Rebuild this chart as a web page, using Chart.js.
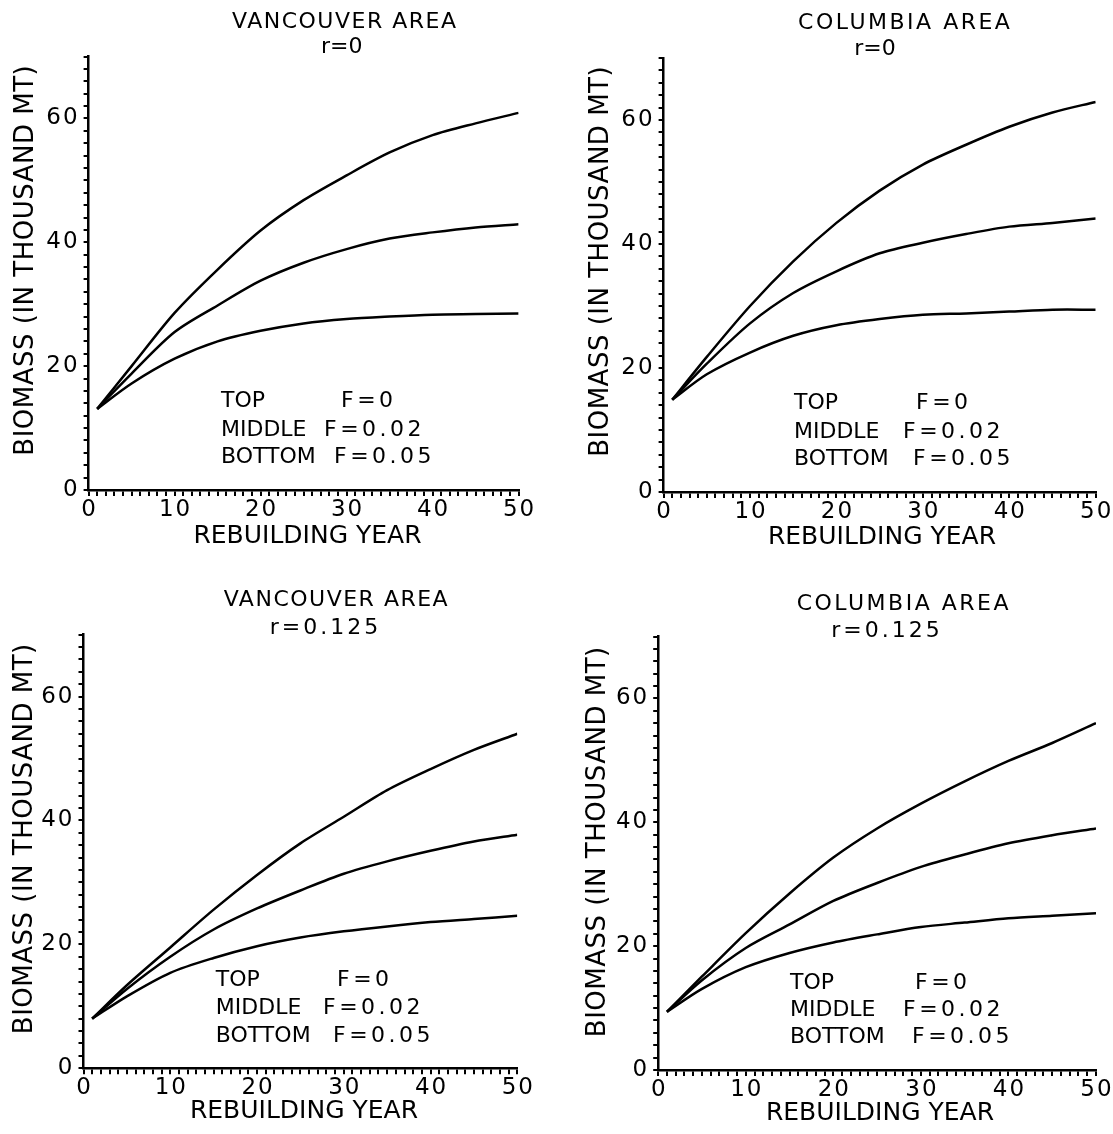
<!DOCTYPE html>
<html>
<head>
<meta charset="utf-8">
<script src="https://cdn.jsdelivr.net/npm/chart.js@4.4.1/dist/chart.umd.min.js"></script>
<style>
html,body{margin:0;padding:0;background:#fff;}
#wrap{position:relative;width:1113px;height:1134px;overflow:hidden;background:#fff;}
#wrap canvas{position:absolute;}
</style>
</head>
<body>
<div id="wrap">
<canvas id="c1"></canvas>
<canvas id="c2"></canvas>
<canvas id="c3"></canvas>
<canvas id="c4"></canvas>
</div>
<script>
// ---------- data ----------
const years = [1, 5, 10, 15, 20, 25, 30, 35, 40, 45, 50];

// Vancouver area, r = 0
const vanR0_F0   = [13.1, 20.0, 28.6, 35.6, 41.9, 46.8, 50.8, 54.5, 57.3, 59.2, 60.9];
const vanR0_F002 = [13.1, 18.8, 25.5, 29.8, 33.8, 36.7, 38.9, 40.6, 41.6, 42.4, 42.9];
const vanR0_F005 = [13.1, 17.2, 21.2, 24.0, 25.7, 26.9, 27.6, 28.0, 28.3, 28.4, 28.5];

// Columbia area, r = 0
const colR0_F0   = [14.9, 21.8, 30.0, 37.2, 43.4, 48.6, 52.8, 56.0, 58.9, 61.2, 62.9];
const colR0_F002 = [14.9, 20.7, 27.2, 32.1, 35.6, 38.5, 40.2, 41.6, 42.8, 43.4, 44.1];
const colR0_F005 = [14.9, 19.0, 22.5, 25.2, 26.9, 27.9, 28.6, 28.8, 29.1, 29.4, 29.4];

// Vancouver area, r = 0.125
const vanR125_F0   = [8.0, 13.4, 19.5, 25.6, 31.2, 36.3, 40.6, 44.9, 48.3, 51.4, 54.0];
const vanR125_F002 = [8.0, 12.8, 18.0, 22.4, 25.8, 28.7, 31.4, 33.4, 35.1, 36.6, 37.7];
const vanR125_F005 = [8.0, 11.6, 15.4, 17.8, 19.7, 21.1, 22.1, 22.9, 23.6, 24.1, 24.6];

// Columbia area, r = 0.125
const colR125_F0   = [9.4, 15.1, 22.1, 28.5, 34.3, 39.0, 43.0, 46.6, 49.9, 52.8, 56.0];
const colR125_F002 = [9.4, 14.5, 19.7, 23.5, 27.3, 30.2, 32.8, 34.8, 36.6, 37.9, 39.0];
const colR125_F005 = [9.4, 13.1, 16.6, 18.9, 20.6, 21.9, 23.1, 23.8, 24.5, 24.9, 25.3];

// tick labels
const xTickLabels = [0, 10, 20, 30, 40, 50];
const yTickLabels = [0, 20, 40, 60];

// text
const xAxisTitle = 'REBUILDING YEAR';
const yAxisTitle = 'BIOMASS (IN THOUSAND MT)';
const legendNames = ['TOP', 'MIDDLE', 'BOTTOM'];
const legendValues = ['F=0', 'F=0.02', 'F=0.05'];

// ---------- layout / style ----------
const FAMILY = "'DejaVu Sans', 'Liberation Sans', Arial, sans-serif";
const YW = 50, XH = 40;
const TICK_SP = 2;

const panels = [
  { id: 'c1', left: 0, top: 0, w: 556, h: 567,
    area: { l: 88.6, r: 518.6, t: 56.5, b: 490 },
    series: [vanR0_F0, vanR0_F002, vanR0_F005],
    title: 'VANCOUVER AREA', sub: 'r=0',
    titlePos: [344, 22], subPos: [341.7, 47], subSp: 0, titleSp: 1.5,
    xtPos: [307.5, 536.7], ytPos: [26.4, 260.5],
    legX: 221, legY: [401.7, 430, 457], legFX: [341, 324, 334] },
  { id: 'c2', left: 556, top: 0, w: 557, h: 567,
    area: { l: 663.6, r: 1095.7, t: 57.9, b: 492.1 },
    series: [colR0_F0, colR0_F002, colR0_F005],
    title: 'COLUMBIA AREA', sub: 'r=0',
    titlePos: [904, 23], subPos: [875, 49], subSp: 0, titleSp: 2.5,
    xtPos: [882, 537.5], ytPos: [601, 261.6],
    legX: 794, legY: [403.6, 432, 459], legFX: [916, 903, 913] },
  { id: 'c3', left: 0, top: 567, w: 556, h: 567,
    area: { l: 83.5, r: 517.3, t: 634.7, b: 1068.2 },
    series: [vanR125_F0, vanR125_F002, vanR125_F005],
    title: 'VANCOUVER AREA', sub: 'r=0.125',
    titlePos: [335.7, 600], subPos: [324, 628.3], subSp: 3, titleSp: 1.5,
    xtPos: [304, 1111], ytPos: [25, 839],
    legX: 215.8, legY: [980, 1008, 1035.8], legFX: [337, 323, 333] },
  { id: 'c4', left: 556, top: 567, w: 557, h: 567,
    area: { l: 658.2, r: 1096, t: 636.5, b: 1070 },
    series: [colR125_F0, colR125_F002, colR125_F005],
    title: 'COLUMBIA AREA', sub: 'r=0.125',
    titlePos: [902.6, 604], subPos: [885.5, 631], subSp: 3, titleSp: 2.5,
    xtPos: [880, 1113], ytPos: [598, 842],
    legX: 790, legY: [983.7, 1010.6, 1037.6], legFX: [915, 903, 912] }
];

Chart.defaults.font.family = FAMILY;
Chart.defaults.color = '#000';

function drawText(ctx, t) {
  ctx.save();
  ctx.font = t.size + 'px ' + FAMILY;
  ctx.fillStyle = '#000';
  const sp = t.sp || 0;
  const hasLS = ('letterSpacing' in ctx);
  if (hasLS) ctx.letterSpacing = sp + 'px';
  ctx.textBaseline = 'middle';
  ctx.textAlign = 'left';
  let w = ctx.measureText(t.text).width;
  if (hasLS) w -= sp;
  ctx.translate(t.x, t.y);
  if (t.rot) ctx.rotate(-Math.PI / 2);
  const x0 = t.align === 'left' ? 0 : -w / 2;
  ctx.fillText(t.text, x0, 0);
  ctx.restore();
}

panels.forEach(p => {
  const cv = document.getElementById(p.id);
  cv.width = p.w; cv.height = p.h;
  cv.style.width = p.w + 'px'; cv.style.height = p.h + 'px';
  cv.style.left = p.left + 'px'; cv.style.top = p.top + 'px';

  const L = (x) => x - p.left, T = (y) => y - p.top;
  const texts = [
    { text: p.title, x: L(p.titlePos[0]), y: T(p.titlePos[1]), size: 22, sp: p.titleSp },
    { text: p.sub, x: L(p.subPos[0]), y: T(p.subPos[1]), size: 22, sp: p.subSp },
    { text: xAxisTitle, x: L(p.xtPos[0]), y: T(p.xtPos[1]), size: 25, sp: 0 },
    { text: yAxisTitle, x: L(p.ytPos[0]), y: T(p.ytPos[1]), size: 26, sp: 0.5, rot: true }
  ];
  legendNames.forEach((n, i) => {
    texts.push({ text: n, x: L(p.legX), y: T(p.legY[i]), size: 22, sp: 0, align: 'left' });
    texts.push({ text: legendValues[i], x: L(p.legFX[i]), y: T(p.legY[i]), size: 22, sp: 3.5, align: 'left' });
  });

  const textPlugin = {
    id: 'panelTexts',
    beforeDraw(chart) {
      if ('letterSpacing' in chart.ctx) chart.ctx.letterSpacing = TICK_SP + 'px';
    },
    afterDraw(chart) {
      const ctx = chart.ctx;
      if ('letterSpacing' in ctx) ctx.letterSpacing = '0px';
      texts.forEach(t => drawText(ctx, t));
      if ('letterSpacing' in ctx) ctx.letterSpacing = '0px';
    }
  };

  new Chart(cv, {
    type: 'line',
    data: {
      datasets: p.series.map(arr => ({
        data: years.map((x, i) => ({ x: x, y: arr[i] })),
        borderColor: '#000',
        borderWidth: 2.5,
        pointRadius: 0,
        tension: 0.3,
        fill: false
      }))
    },
    options: {
      responsive: false,
      animation: false,
      devicePixelRatio: 1,
      events: [],
      layout: {
        padding: {
          left: L(p.area.l) - YW,
          top: T(p.area.t),
          right: p.w - L(p.area.r),
          bottom: p.h - T(p.area.b) - XH
        }
      },
      plugins: { legend: { display: false }, tooltip: { enabled: false }, title: { display: false } },
      scales: {
        x: {
          type: 'linear', min: 0, max: 50,
          afterFit: s => { s.height = XH; },
          ticks: {
            stepSize: 1, autoSkip: false, maxRotation: 0, minRotation: 0,
            padding: 0, labelOffset: TICK_SP / 2,
            font: { size: 23 }, color: '#000',
            callback: v => xTickLabels.includes(Math.round(v)) && Math.abs(v - Math.round(v)) < 1e-6 ? String(Math.round(v)) : ''
          },
          grid: { drawOnChartArea: false, drawTicks: true, tickLength: 6, color: '#000', lineWidth: 2 },
          border: { display: true, color: '#000', width: 2.5 }
        },
        y: {
          type: 'linear', min: 0, max: 70,
          afterFit: s => { s.width = YW; },
          ticks: {
            stepSize: 2, autoSkip: false, padding: 4,
            font: { size: 23 }, color: '#000',
            callback: v => yTickLabels.includes(Math.round(v)) && Math.abs(v - Math.round(v)) < 1e-6 ? String(Math.round(v)) : ''
          },
          grid: { drawOnChartArea: false, drawTicks: true, tickLength: 5, color: '#000', lineWidth: 2 },
          border: { display: true, color: '#000', width: 2.5 }
        }
      }
    },
    plugins: [textPlugin]
  });
});
</script>
</body>
</html>
